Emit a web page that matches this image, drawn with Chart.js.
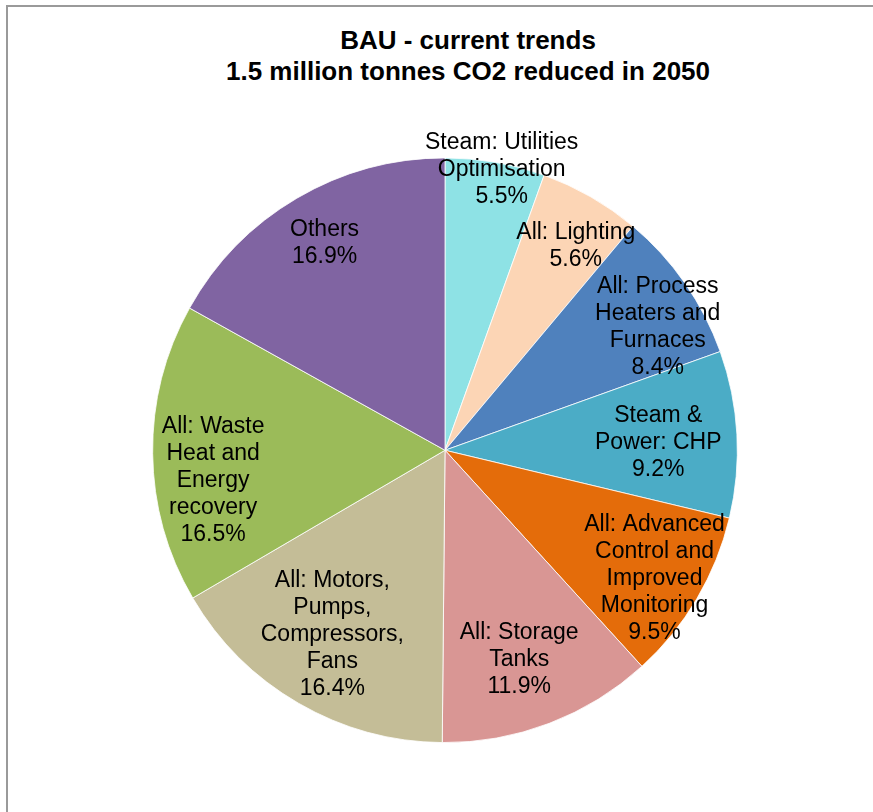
<!DOCTYPE html>
<html>
<head>
<meta charset="utf-8">
<script src="https://cdn.jsdelivr.net/npm/chart.js@4"></script>
<style>
  html, body { margin: 0; padding: 0; background: #fff; }
  #wrap { position: relative; width: 873px; height: 812px; overflow: hidden; }
  #frame { position: absolute; left: 6px; top: 5px; width: 900px; height: 900px;
           border-left: 2px solid #9a9a9a; border-top: 2px solid #9a9a9a; }
  #title { position: absolute; left: 468px; top: 25px; transform: translateX(-50%);
           font: bold 26px "Liberation Sans", Arial, sans-serif; line-height: 31px;
           text-align: center; white-space: nowrap; color: #000; }
  #pie { position: absolute; left: 0; top: 0; }
</style>
</head>
<body>
<div id="wrap">
  <div id="frame"></div>
  <div id="title">BAU - current trends<br>1.5 million tonnes CO2 reduced in 2050</div>
  <canvas id="pie" width="873" height="812"></canvas>
</div>
<script>
// slices, clockwise from 12 o'clock
const categories = [
  ['Steam: Utilities', 'Optimisation'],
  ['All: Lighting'],
  ['All: Process', 'Heaters and', 'Furnaces'],
  ['Steam &', 'Power: CHP'],
  ['All: Advanced', 'Control and', 'Improved', 'Monitoring'],
  ['All: Storage', 'Tanks'],
  ['All: Motors,', 'Pumps,', 'Compressors,', 'Fans'],
  ['All: Waste', 'Heat and', 'Energy', 'recovery'],
  ['Others'],
];
const shares = [5.5, 5.6, 8.4, 9.2, 9.5, 11.9, 16.4, 16.5, 16.9];

const sliceColors = [
  '#8ee2e5', '#fcd5b5', '#4f81bd', '#4bacc6', '#e46c0a',
  '#d99694', '#c4bd97', '#9bbb59', '#8064a2',
];

// label placement: fraction of radius, and angle nudge in degrees
const labelRadius = [0.98, 0.83, 0.84, 0.73, 0.84, 0.76, 0.74, 0.80, 0.82];
const labelNudge  = [1.5, 2.7, 4.9, 1.2, 0.9, 1.4, 1.3, -6.9, 0.3];

const FONT = '"Liberation Sans", Arial, sans-serif';

const sliceLabels = {
  id: 'sliceLabels',
  afterDatasetsDraw(chart) {
    const ctx = chart.ctx;
    const meta = chart.getDatasetMeta(0);
    ctx.save();
    ctx.font = '23px ' + FONT;
    ctx.fillStyle = '#000';
    ctx.textAlign = 'center';
    ctx.textBaseline = 'middle';
    meta.data.forEach((arc, i) => {
      const p = arc.getProps(['x', 'y', 'startAngle', 'endAngle', 'outerRadius'], true);
      const mid = (p.startAngle + p.endAngle) / 2 + labelNudge[i] * Math.PI / 180;
      const r = p.outerRadius * labelRadius[i];
      const cx = p.x + Math.cos(mid) * r;
      const cy = p.y + Math.sin(mid) * r;
      const lines = [...categories[i], shares[i].toFixed(1) + '%'];
      const lh = 27;
      const top = cy - (lines.length - 1) * lh / 2;
      lines.forEach((t, k) => ctx.fillText(t, cx, top + k * lh));
    });
    ctx.restore();
  }
};

new Chart(document.getElementById('pie').getContext('2d'), {
  type: 'pie',
  data: {
    labels: categories,
    datasets: [{
      data: shares,
      backgroundColor: sliceColors,
      borderColor: '#ffffff',
      borderWidth: 0.8,
    }]
  },
  options: {
    responsive: false,
    animation: false,
    layout: { padding: { left: 152, top: 157.5, right: 135, bottom: 69 } },
    plugins: {
      legend: { display: false },
      tooltip: { enabled: false },
      title: { display: false },
    }
  },
  plugins: [sliceLabels]
});
</script>
</body>
</html>
